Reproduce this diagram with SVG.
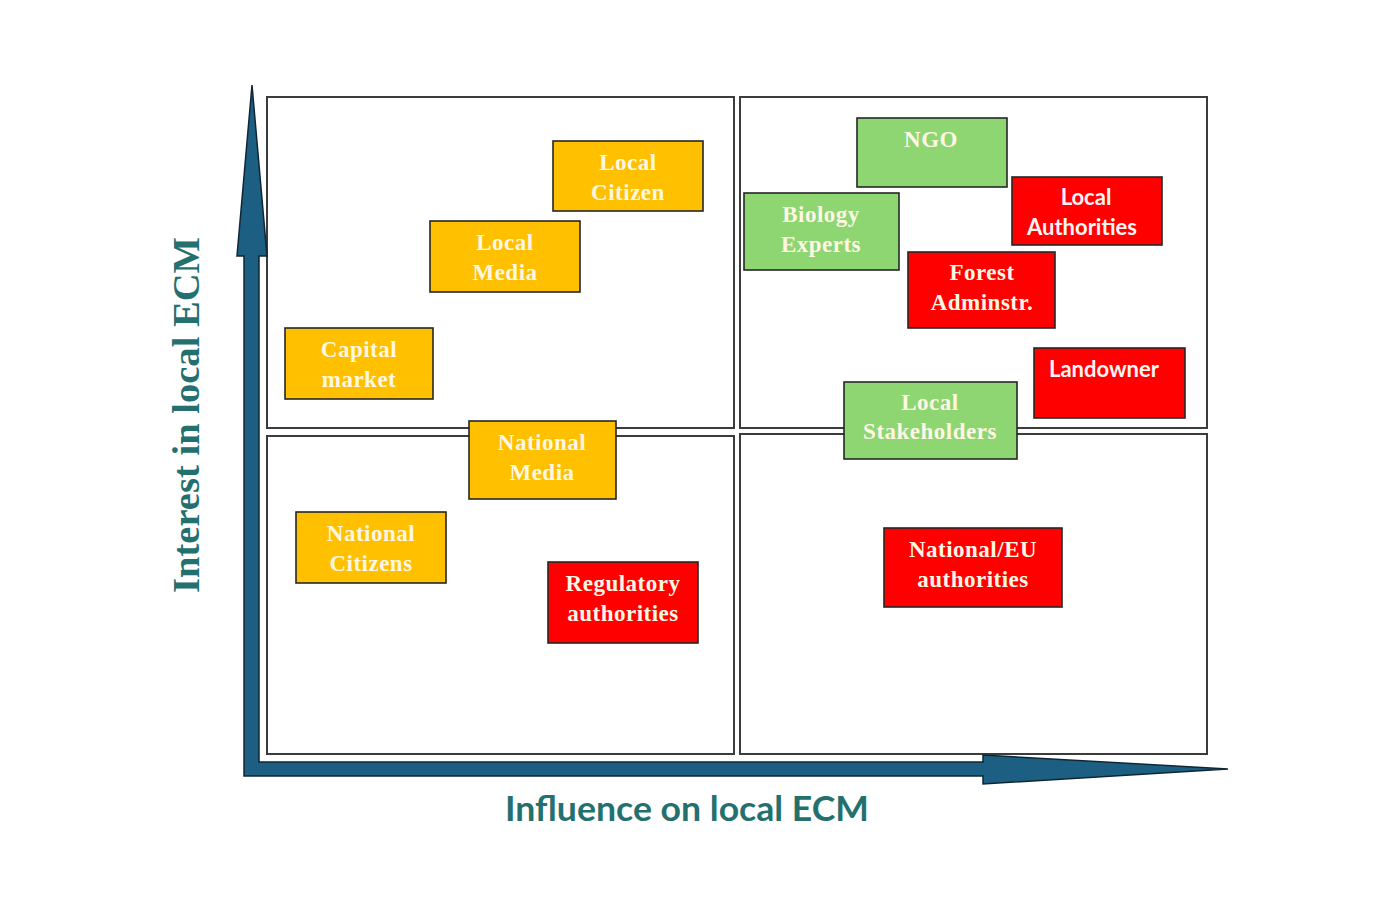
<svg xmlns="http://www.w3.org/2000/svg" width="1400" height="900" viewBox="0 0 1400 900">
<style>
.q{fill:#fff;stroke:#3c3c3c;stroke-width:2}
.b{stroke:#262626;stroke-width:1.6}
.o{fill:#FFC000}
.r{fill:#FF0000}
.g{fill:#8DD672}
.t{font-family:"Liberation Serif","Times New Roman",serif;font-weight:bold;font-size:23px;letter-spacing:0.5px;text-anchor:middle;fill:#FFF7E4}
.s{font-family:Lato,"Open Sans","Liberation Sans",sans-serif;font-weight:bold;font-size:22px;text-anchor:middle;fill:#FFF4F4}
</style>
<rect width="1400" height="900" fill="#fff"/>
<g id="quadrants">
<rect class="q" x="267" y="97" width="467" height="331"/>
<rect class="q" x="267" y="436" width="467" height="318"/>
<rect class="q" x="740" y="97" width="467" height="331"/>
<rect class="q" x="740" y="434" width="467" height="320"/>
</g>
<g id="axes">
<path d="M244,776 L244,256 L237,256 L252,85 L267,256 L259,256 L259,762 L983,762 L983,755 L1228,769 L983,784 L983,776 Z" fill="#1C5F82" stroke="#0f2735" stroke-width="1.5" stroke-linejoin="miter"/>
<text x="0" y="0" transform="translate(199,415) rotate(-90)" font-family="Liberation Serif,'Times New Roman',serif" font-weight="bold" font-size="38" fill="#24706F" text-anchor="middle" textLength="356" lengthAdjust="spacingAndGlyphs">Interest in local ECM</text>
<text x="687" y="821" font-family="Lato,'Open Sans','Liberation Sans',sans-serif" font-weight="bold" font-size="35" fill="#24706F" text-anchor="middle" textLength="364" lengthAdjust="spacingAndGlyphs">Influence on local ECM</text>
</g>
<g id="local-citizen"><rect class="b o" x="553" y="141" width="150" height="70"/><text class="t" x="628" y="170">Local</text><text class="t" x="628" y="200">Citizen</text></g>
<g id="local-media"><rect class="b o" x="430" y="221" width="150" height="71"/><text class="t" x="505" y="250">Local</text><text class="t" x="505" y="280">Media</text></g>
<g id="capital-market"><rect class="b o" x="285" y="328" width="148" height="71"/><text class="t" x="359" y="357">Capital</text><text class="t" x="359" y="387">market</text></g>
<g id="national-media"><rect class="b o" x="469" y="421" width="147" height="78"/><text class="t" x="542" y="450">National</text><text class="t" x="542" y="480">Media</text></g>
<g id="national-citizens"><rect class="b o" x="296" y="512" width="150" height="71"/><text class="t" x="371" y="541">National</text><text class="t" x="371" y="571">Citizens</text></g>
<g id="regulatory-authorities"><rect class="b r" x="548" y="562" width="150" height="81"/><text class="t" x="623" y="591">Regulatory</text><text class="t" x="623" y="621">authorities</text></g>
<g id="ngo"><rect class="b g" x="857" y="118" width="150" height="69"/><text class="t" x="931" y="147">NGO</text></g>
<g id="biology-experts"><rect class="b g" x="744" y="193" width="155" height="77"/><text class="t" x="821" y="222">Biology</text><text class="t" x="821" y="252">Experts</text></g>
<g id="local-authorities"><rect class="b r" x="1012" y="177" width="150" height="68"/><text class="s" x="1086" y="205">Local</text><text class="s" x="1082" y="235">Authorities</text></g>
<g id="forest-adminstr"><rect class="b r" x="908" y="252" width="147" height="76"/><text class="t" x="982" y="280">Forest</text><text class="t" x="982" y="310">Adminstr.</text></g>
<g id="landowner"><rect class="b r" x="1034" y="348" width="151" height="70"/><text class="s" x="1104" y="377">Landowner</text></g>
<g id="local-stakeholders"><rect class="b g" x="844" y="382" width="173" height="77"/><text class="t" x="930" y="410">Local</text><text class="t" x="930" y="439">Stakeholders</text></g>
<g id="national-eu-authorities"><rect class="b r" x="884" y="528" width="178" height="79"/><text class="t" x="973" y="557">National/EU</text><text class="t" x="973" y="587">authorities</text></g>
</svg>
